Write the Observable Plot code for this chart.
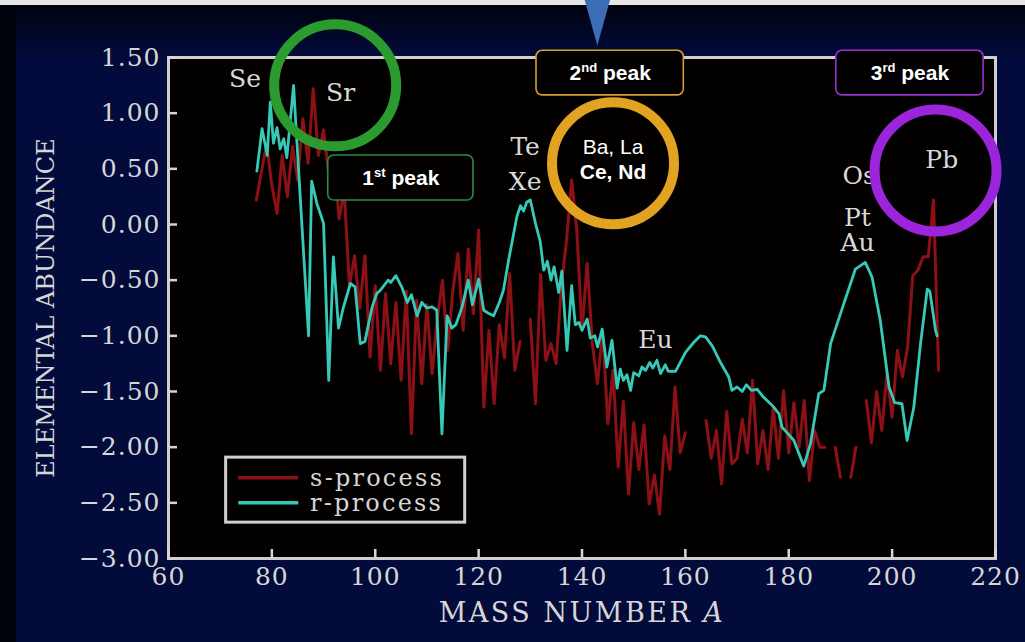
<!DOCTYPE html>
<html><head><meta charset="utf-8">
<script src="https://cdn.jsdelivr.net/npm/d3@7"></script>
<script src="https://cdn.jsdelivr.net/npm/@observablehq/plot@0.6"></script>
<style>
html,body{margin:0;padding:0;width:1025px;height:642px;overflow:hidden;background:#e6e6e6;}
#bg{position:absolute;left:0;top:5px;width:1025px;height:637px;
 background:linear-gradient(to bottom,#00030f 0px,#010623 22px,#030b3c 55px,#030b3a 100%);}
#lstrip{position:absolute;left:0;top:5px;width:16px;height:637px;background:#00020c;}
#chart{position:absolute;left:0;top:0;}
</style></head><body>
<div id="bg"></div><div id="lstrip"></div>
<div id="chart"></div>
<script>
// ---------- data ----------
const sMass = [77,78,79,80,81,82,83,84,85,86,87,88,89,90,91,92,93,94,95,96,97,98,99,100,
 101,102,103,104,105,106,107,108,109,110,111,112,113,114,115,116,117,118,119,120,
 121,122,123,124,125,126,127,128,129,130,131,132,133,134,135,136,137,138,139,140,
 141,142,143,144,145,146,147,148,149,150,151,152,153,154,155,156,157,158,159,160,
 161,162,163,164,165,166,167,168,169,170,171,172,173,174,175,176,177,178,179,180,
 181,182,183,184,185,186,187,188,189,190,191,192,193,194,195,196,197,198,199,200,
 201,202,203,204,205,206,207,208,209];
const sAbund = [0.22,0.48,0.72,0.35,0.10,0.62,0.25,0.70,0.40,0.95,0.55,1.22,0.62,0.85,0.45,0.60,0.05,0.30,-0.55,-0.28,-0.75,-0.28,-1.19,-0.55,
 -1.31,-0.62,-1.25,-0.70,-1.40,-0.60,-1.88,-0.68,-1.43,-0.72,-1.34,-0.85,-0.50,-1.13,-0.60,-0.26,-0.95,-0.22,-0.80,-0.05,
 -1.64,-0.95,-1.61,-0.90,-1.20,-0.44,-1.31,-1.05,null,-0.85,-1.61,-0.45,-1.22,-1.07,-1.25,-0.55,-0.15,0.40,-0.05,-0.95,
 -0.35,-1.07,-1.43,-0.95,-1.79,-1.31,-2.18,-1.59,-2.42,-1.78,-2.20,-1.80,-2.51,-2.25,-2.60,-1.90,-2.20,-1.46,-2.05,-1.87,
 null,null,null,-1.76,-2.10,-1.85,-2.33,-1.68,-2.15,-2.10,-1.75,-2.05,-1.40,-2.15,-1.85,-2.20,-1.65,-2.10,-1.49,-2.05,
 -1.60,-2.00,-1.58,-2.30,-1.85,-2.00,-2.00,null,-2.00,-2.27,null,-2.27,-2.00,null,-1.58,-1.96,-1.50,-1.85,-1.34,-1.73,
 -1.13,-1.37,-1.10,-0.46,-0.41,-0.29,-0.29,0.22,-1.31];

const rMass = [77.1,78.1,78.7,79.1,79.7,80.3,81.0,81.6,82.3,82.9,83.5,84.2,84.6,87.1,87.7,88.7,90.0,91.0,91.9,92.9,
 93.8,95.2,96.1,97.1,98.0,99.4,100.3,101.0,102.0,102.5,103.0,104.0,105.2,106.2,107.0,108.1,109.0,110.0,111.0,111.9,
 112.9,113.9,114.8,115.6,116.8,118.0,118.8,120.0,121.0,122.0,122.9,124.0,124.8,125.8,127.4,128.1,128.7,129.3,130.0,131.0,
 131.9,132.6,133.3,134.0,134.6,135.5,136.1,137.1,138.0,138.7,139.4,140.0,141.0,141.6,142.5,143.0,143.9,144.8,145.8,146.8,
 147.4,148.0,148.7,149.4,150.0,151.0,151.6,152.3,153.1,153.7,154.5,155.2,156.1,156.7,158.1,160.0,161.6,162.9,163.9,165.2,
 166.8,168.4,169.0,170.0,171.0,171.8,172.8,173.9,175.1,177.1,178.1,178.7,181.0,182.9,184.2,185.8,186.8,188.1,190.3,192.9,
 194.8,196.1,197.7,199.4,200.5,201.9,202.9,204.2,205.5,206.8,207.3,208.4,208.7];
const rAbund = [0.48,0.86,0.72,0.62,1.10,0.73,0.87,0.68,0.77,0.60,0.90,1.25,0.93,-1.00,0.39,0.19,0.01,-1.40,-0.29,-0.93,
 -0.75,-0.53,-0.56,-1.07,-1.05,-0.74,-0.62,-0.59,-0.53,-0.50,-0.52,-0.46,-0.57,-0.70,-0.63,-0.82,-0.70,-0.75,-0.74,-0.77,
 -1.88,-0.82,-0.93,-0.90,-0.74,-0.50,-0.72,-0.49,-0.77,-0.80,-0.82,-0.70,-0.59,-0.32,0.07,0.17,0.12,0.20,0.22,0.01,
 -0.15,-0.41,-0.33,-0.50,-0.38,-0.61,-0.42,-1.13,-0.55,-0.90,-0.88,-0.95,-0.85,-1.02,-1.00,-1.10,-0.94,-1.28,-1.04,-1.47,
 -1.30,-1.40,-1.35,-1.49,-1.33,-1.36,-1.28,-1.31,-1.24,-1.29,-1.22,-1.34,-1.26,-1.32,-1.32,-1.15,-1.06,-1.00,-1.01,-1.09,
 -1.24,-1.37,-1.49,-1.46,-1.50,-1.44,-1.49,-1.48,-1.55,-1.64,-1.70,-1.82,-1.94,-2.17,-1.97,-1.52,-1.49,-1.07,-0.76,-0.40,
 -0.34,-0.47,-0.86,-1.46,-1.60,-1.61,-1.94,-1.64,-1.07,-0.58,-0.60,-0.95,-1.00];

const xTicks = [60,80,100,120,140,160,180,200,220];
const yTicks = [1.5,1.0,0.5,0.0,-0.5,-1.0,-1.5,-2.0,-2.5,-3.0];
const seriesNames = ["s-process","r-process"];
const seriesColors = ["#8c1117","#36c9b7"];

// element annotations (mass number, abundance at label centre); "Pt\nAu" is one stacked label
const elemText = ["Se","Sr","Te","Xe","Eu","Os","Pt\nAu","Pb"];
const elemMass = [74.8,93.3,129.0,129.0,154.2,193.6,193.3,209.6];
const elemAbund = [1.31,1.18,0.70,0.38,-1.04,0.44,-0.05,0.58];

const ringMass = [92.25,146.0,208.4];
const ringAbund = [1.25,0.55,0.485];
const ringColors = ["#2b9a2f","#e2a322","#9c25dc"];

const peakText = ["1st peak","2nd peak","3rd peak"];
const peakMass1 = [90.9,131.2,189.2];
const peakMass2 = [119.0,159.7,217.7];
const peakAbund1 = [0.62,1.56,1.56];
const peakAbund2 = [0.215,1.16,1.16];
const peakColors = ["#2d8a45","#d2a035","#9a30d0"];

const ringTextTop = ["Ba, La"];
const ringTextBottom = ["Ce, Nd"];
const ringTextMass = 146.0;
const ringTextAbund = [0.69,0.465];

// ---------- tables ----------
const sData = sMass.map((a,i)=>({A:a,v:sAbund[i]}));
const rData = rMass.map((a,i)=>({A:a,v:rAbund[i]}));
const elems = elemText.map((t,i)=>({t,A:elemMass[i],v:elemAbund[i]}));
const rings = ringMass.map((a,i)=>({A:a,v:ringAbund[i],c:ringColors[i]}));
const peaks = peakText.map((t,i)=>({t,A1:peakMass1[i],A2:peakMass2[i],v1:peakAbund1[i],v2:peakAbund2[i],c:peakColors[i],A:(peakMass1[i]+peakMass2[i])/2,v:(peakAbund1[i]+peakAbund2[i])/2}));
const legendBox = [{A1:71.15,A2:117.4,v1:-2.094,v2:-2.678}];
const legendRows = seriesNames.map((n,i)=>({n,c:seriesColors[i],A1:73.5,A2:85.1,v:[-2.274,-2.499][i]}));
const legendText = [{n:seriesNames.join("\n"),A:87.4,v:-2.387}];
const marker = [{A:142.97,v:1.608}];

const serif = "'DejaVu Serif', serif";
const sans = "'Liberation Sans', Arial, sans-serif";
const txt = "#d6d6d6";

const chart = Plot.plot({
  width:1025, height:642,
  marginLeft:168, marginRight:30, marginTop:57, marginBottom:84,
  style:{background:"transparent", color:txt, fontFamily:serif, overflow:"visible"},
  x:{domain:[60,220]},
  y:{domain:[-3,1.5]},
  marks:[
    Plot.frame({fill:"#030000", stroke:null}),
    Plot.line(sData,{x:"A",y:"v",stroke:seriesColors[0],strokeWidth:3}),
    Plot.line(rData,{x:"A",y:"v",stroke:seriesColors[1],strokeWidth:2.8}),
    Plot.frame({stroke:"#cfcfcf", strokeWidth:3}),
    Plot.axisX({ticks:xTicks, tickFormat:d3.format("d"), tickSize:-9, tickPadding:18, fontSize:25, strokeWidth:2.5, label:null}),
    Plot.axisY({ticks:yTicks, tickFormat:d3.format(".2f"), tickSize:-9, tickPadding:17, fontSize:25, strokeWidth:2.5, label:null}),
    Plot.text(["ELEMENTAL ABUNDANCE"],{frameAnchor:"left", rotate:-90, textAnchor:"middle", lineAnchor:"middle", dx:-122, fontSize:24, fill:txt}),
    Plot.text(["MASS NUMBER A"],{frameAnchor:"bottom", textAnchor:"middle", lineAnchor:"middle", dy:55, fontSize:27, fill:txt}),
    // legend
    Plot.rect(legendBox,{x1:"A1",x2:"A2",y1:"v1",y2:"v2",fill:"#030000",stroke:"#d0d0d0",strokeWidth:3}),
    Plot.link(legendRows,{x1:"A1",x2:"A2",y1:"v",y2:"v",stroke:"c",strokeWidth:3.5}),
    Plot.text(legendText,{x:"A",y:"v",text:"n",textAnchor:"start",lineAnchor:"middle",lineHeight:1.04,fontSize:24,fill:txt}),
    // element labels
    Plot.text(elems,{x:"A",y:"v",text:"t",lineHeight:1.0,fontSize:25,fill:"#d9d9d9"}),
    // peak boxes
    Plot.rect(peaks,{x1:"A1",x2:"A2",y1:"v1",y2:"v2",fill:"#030000",stroke:"c",strokeWidth:1.6,rx:6}),
    Plot.text(peaks,{x:"A",y:"v",text:"t",fontFamily:sans,fontWeight:"bold",fontSize:21,fill:"#ffffff"}),
    // rings
    Plot.dot(rings,{x:"A",y:"v",r:61,stroke:"c",strokeWidth:10,fill:"none"}),
    Plot.text(ringTextTop,{x:()=>ringTextMass,y:()=>ringTextAbund[0],fontFamily:sans,fontSize:21,fill:"#ffffff"}),
    Plot.text(ringTextBottom,{x:()=>ringTextMass,y:()=>ringTextAbund[1],fontFamily:sans,fontWeight:"bold",fontSize:21,fill:"#ffffff"}),
    // marker triangle
    Plot.vector(marker,{x:"A",y:"v",length:52,rotate:180,shape:"spike",r:14.5,anchor:"end",fill:"#3a6db3",stroke:null})
  ]
});
document.getElementById("chart").appendChild(chart);

// letter spacing, superscripts and italic A
const svg = d3.select(chart);
svg.selectAll("g[aria-label='x-axis tick label'] text, g[aria-label='y-axis tick label'] text").attr("letter-spacing", 1);
svg.selectAll("text").each(function(){
  const t = this.textContent;
  const el = d3.select(this);
  const m = t.match(/^(\d)(st|nd|rd) peak$/);
  if (m) {
    el.text(null);
    el.append("tspan").text(m[1]);
    el.append("tspan").attr("dy",-8).attr("font-size",13).text(m[2]);
    el.append("tspan").attr("dy",8).text(" peak");
  } else if (t === "MASS NUMBER A") {
    el.attr("letter-spacing", 2.5);
    el.text(null);
    el.append("tspan").text("MASS NUMBER ");
    el.append("tspan").attr("font-style","italic").text("A");
  } else if (t === "s-processr-process") {
    el.attr("letter-spacing", 2.2);
  }
});
</script>
</body></html>
